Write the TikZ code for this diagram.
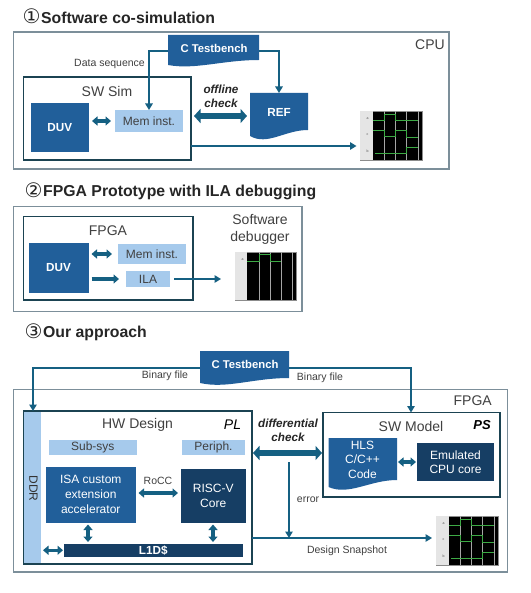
\documentclass[tikz,border=0pt]{standalone}
\usepackage{fontspec}
\setmainfont{Liberation Sans}
\newfontfamily\symfont{DejaVu Sans}
\usetikzlibrary{arrows.meta,calc}
\definecolor{midblue}{HTML}{215F9A}
\definecolor{navy}{HTML}{163E64}
\definecolor{lightblue}{HTML}{A6CAEC}
\definecolor{teal}{HTML}{156082}
\definecolor{framegray}{HTML}{7C8F9A}
\definecolor{innerdark}{HTML}{1B4352}
\definecolor{textgray}{HTML}{404040}
\definecolor{wavegreen}{HTML}{3DAA45}
\newcommand{\fsz}[1]{\fontsize{#1}{\dimexpr #1pt*12/10\relax}\selectfont}
\newcommand{\circnum}[1]{\makebox[18.5pt][l]{\symfont\mdseries\fsz{20}\raisebox{-0.5pt}{#1}}}
% name, x1, y1, x2, y2, style, text
\newcommand{\bx}[7]{%
  \pgfmathsetmacro\bw{#4-#2}\pgfmathsetmacro\bh{#5-#3}%
  \pgfmathsetmacro\bcx{(#2+#4)/2}\pgfmathsetmacro\bcy{(#3+#5)/2}%
  \node[#6,minimum width=\bw pt,minimum height=\bh pt,inner sep=0pt,outer sep=0pt] (#1) at (\bcx,\bcy) {#7};}
% name, x1, y1, x2, y2(right bottom), y3(left bottom), dip
\newcommand{\docshape}[7]{%
  \pgfmathsetmacro\bw{#4-#2}\pgfmathsetmacro\bh{#5-#3}%
  \pgfmathsetmacro\bcx{(#2+#4)/2}\pgfmathsetmacro\bcy{(#3+#5)/2}%
  \pgfmathsetmacro\ca{#2+0.3*(#4-#2)}\pgfmathsetmacro\cb{#2+0.6*(#4-#2)}%
  \fill[midblue] (#2,#3) -- (#4,#3) -- (#4,#5) .. controls (\cb,#5) and (\ca,#7) .. (#2,#6) -- cycle;
  \node[minimum width=\bw pt,minimum height=\bh pt,inner sep=0pt,outer sep=0pt] (#1) at (\bcx,\bcy) {};}
\tikzset{
  frame/.style={draw=framegray,line width=1.1pt,fill=white},
  inner box/.style={draw=innerdark,line width=1.3pt,fill=white},
  dark/.style={fill=midblue,text=white,font=\fsz{11.7}\bfseries,align=center},
  darkreg/.style={fill=midblue,text=white,font=\fsz{12},align=center},
  deep/.style={fill=navy,text=white,font=\fsz{12},align=center},
  pale/.style={fill=lightblue,text=textgray,font=\fsz{12}},
  title/.style={anchor=west,text=black!85,font=\fsz{15.8}\bfseries,inner sep=0pt},
  lab/.style={text=textgray,font=\fsz{10.5},inner sep=0pt,align=center},
  head/.style={text=textgray,font=\fsz{14},inner sep=0pt,align=center},
  chk/.style={text=black!85,font=\fsz{11.7}\bfseries\itshape,inner sep=0pt,align=center},
  thin arrow/.style={draw=teal,line width=1.3pt,-{Triangle[width=7.5pt,length=6.5pt]}},
  small both/.style={draw=teal,line width=3.2pt,{Triangle[width=9pt,length=5.5pt]}-{Triangle[width=9pt,length=5.5pt]}},
  small one/.style={draw=teal,line width=3.2pt,-{Triangle[width=9pt,length=5.5pt]}},
  big both/.style={draw=teal,line width=6pt,{Triangle[width=14pt,length=6.5pt]}-{Triangle[width=14pt,length=6.5pt]}},
  wavebox/.style={draw=black!45,line width=0.8pt,fill=black},
  wave/.style={draw=wavegreen,line width=0.9pt},
  waveg/.style={draw=black!35,line width=0.8pt},
  panel/.style={fill=black!10},
  wavelab/.style={font=\fsz{3.5},inner sep=0pt,text=black!70}
}
\newcommand{\fullwave}[3]{%
  \bx{#1}{#2}{#3}{#2+62}{#3+49}{wavebox}{}
  \begin{scope}[shift={(#2,#3)}]
    \fill[panel] (0.4,0.4) rectangle (12.7,48.6);
    \foreach \vx in {24.3,35.7,46.7,58.3} \draw[waveg] (\vx,0.4) -- (\vx,48.6);
    \node[wavelab] at (7.5,8) {a};
    \node[wavelab] at (7.5,24) {c};
    \node[wavelab] at (7.5,40.5) {b};
    \draw[wave] (12.7,9.3) -- (24.3,9.3) -- (24.3,3) -- (35.7,3) -- (35.7,9.3) -- (58.3,9.3);
    \draw[wave] (12.7,19.3) -- (24.3,19.3) -- (24.3,25.3) -- (35.7,25.3) -- (35.7,19.3) -- (46.7,19.3) -- (46.7,26) -- (58.3,26);
    \draw[wave] (15,42) -- (46.7,42) -- (46.7,36) -- (58.3,36);
  \end{scope}}
\begin{document}
\begin{tikzpicture}[x=1pt,y=-1pt]
\useasboundingbox (0,0) rectangle (530,593);
\fill[white] (0,0) rectangle (530,593);

% ---- Part 1
\node[title] (t1) at (22.5,16.5) {\circnum{①}Software co-simulation};
\bx{cpu}{13.5}{32}{449}{169}{frame}{}
\node[head,anchor=north east] (cpulab) at (445,40) {CPU};
\bx{swsim}{23.5}{77}{191}{160}{inner box}{}
\node[head] (swsimlab) at (107,91) {SW Sim};
\bx{duva}{30.5}{103}{89}{152}{dark}{DUV}
\bx{mema}{115}{110}{183}{132}{pale}{Mem inst.}
\docshape{tba}{168}{35}{259}{60}{65}{70}
\node[text=white,font=\fsz{11.3}\bfseries,inner sep=0pt] (tbalab) at (214,48) {C Testbench};
\docshape{refa}{250}{93}{308}{130}{136}{146}
\node[text=white,font=\fsz{11.7}\bfseries,inner sep=0pt] (refalab) at (279,112) {REF};
\node[chk] (offl) at (221,96.5) {offline\\[0.5pt]check};
\node[lab] (dseq) at (109.5,64) {Data sequence};
\fullwave{wavea}{360}{111}
\coordinate (ca1) at (149,51);
\coordinate (ca2) at (279,51);
\draw[thin arrow] (tba.west |- ca1) -- (ca1) -- (ca1 |- mema.north);
\draw[thin arrow] (tba.east |- ca2) -- (ca2) -- (ca2 |- refa.north);
\draw[small both,shorten <=3pt,shorten >=4pt] (duva.east |- mema.west) -- (mema.west);
\draw[big both,shorten <=3pt,shorten >=3pt] (swsim.east |- 0,116) -- (refa.west |- 0,116);
\coordinate (ca3) at (191,146);
\draw[thin arrow,shorten >=3.5pt] (ca3) -- (wavea.west |- ca3);

% ---- Part 2
\node[title] (t2) at (24.5,191.5) {\circnum{②}FPGA Prototype with ILA debugging};
\bx{boxb}{13.5}{206.5}{302}{311.5}{frame}{}
\bx{fpgab}{23.5}{216.5}{193}{300}{inner box}{}
\node[head] (fpgablab) at (108,231) {FPGA};
\bx{duvb}{28.5}{243}{88.5}{293}{dark}{DUV}
\bx{memb}{118}{244}{186}{264}{pale}{Mem inst.}
\bx{ilab}{126}{271}{170}{287}{pale}{ILA}
\node[head] (dbg) at (260,229.5) {Software\\[0pt]debugger};
\bx{waveb}{235}{252}{296}{300}{wavebox}{}
\begin{scope}[shift={(235,252)}]
  \fill[panel] (0.4,0.4) rectangle (12.3,47.6);
  \foreach \vx in {24,35,46,57} \draw[waveg] (\vx,0.4) -- (\vx,47.6);
  \node[wavelab] at (7.5,7.5) {a};
  \draw[wave] (12.3,9) -- (24,9) -- (24,2.7) -- (35,2.7) -- (35,9) -- (46,9);
\end{scope}
\draw[small both,shorten <=3pt,shorten >=6pt] (duvb.east |- memb.west) -- (memb.west);
\draw[small one,shorten <=3pt,shorten >=7pt] (duvb.east |- ilab.west) -- (ilab.west);
\draw[thin arrow,shorten <=4pt,shorten >=14pt] (ilab.east) -- (waveb.west |- ilab.east);

% ---- Part 3
\node[title] (t3) at (24.5,332.5) {\circnum{③}Our approach};
\bx{boxc}{13.5}{389.5}{507.5}{572}{frame}{}
\node[head,anchor=north east] (fpgaclab) at (492,396) {FPGA};
\docshape{tbc}{200}{351}{289}{378}{383}{389}
\node[text=white,font=\fsz{11.3}\bfseries,inner sep=0pt] (tbclab) at (245,364.5) {C Testbench};
\bx{hw}{23.5}{411}{252}{564}{inner box}{}
\bx{ddr}{24.2}{412}{41}{563.3}{fill=lightblue}{}
\node[rotate=-90,text=black!80,font=\fsz{12},inner sep=0pt] (ddrlab) at (33.5,488.5) {DDR};
\node[head] (hwlab) at (137.5,425) {HW Design};
\node[text=black,font=\fsz{14}\itshape,inner sep=0pt] (pl) at (232.5,424.5) {PL};
\bx{subsys}{48.5}{440}{137}{455}{pale}{Sub-sys}
\bx{periph}{182}{440}{245}{455}{pale}{Periph.}
\bx{isa}{46}{467}{135.5}{522.5}{darkreg}{ISA custom\\[0.5pt]extension\\[0.5pt]accelerator}
\bx{riscv}{181}{469}{245.5}{522.5}{deep}{RISC-V\\[0pt]Core}
\bx{lid}{64}{544}{242.5}{556.5}{fill=navy,text=white,font=\fsz{11.7}\bfseries}{L1D\$}
\node[lab] (rocc) at (158,481) {RoCC};
\bx{sw}{323}{412.5}{500}{497}{inner box}{}
\node[head] (swlab) at (411,426) {SW Model};
\node[text=black,font=\fsz{13}\bfseries\itshape,inner sep=0pt] (ps) at (482,425) {PS};
\docshape{hls}{328.5}{438}{397}{480}{487}{496}
\node[text=white,font=\fsz{12},inner sep=0pt,align=center] (hlslab) at (362.5,459.5) {HLS\\[0pt]C/C++\\[0pt]Code};
\bx{emu}{417}{443}{494}{481}{deep}{Emulated\\[0pt]CPU core}
\node[chk] (diff) at (288,430) {differential\\[0pt]check};
\node[lab] (bf1) at (165,376) {Binary file};
\node[lab] (bf2) at (320,378) {Binary file};
\node[lab] (err) at (308,499.5) {error};
\node[lab] (snap) at (347,551) {Design Snapshot};
\fullwave{wavec}{436}{516}
\coordinate (cc1) at (33,368);
\coordinate (cc2) at (411,368);
\coordinate (cc3) at (289,462);
\coordinate (cc4) at (252,538);
\draw[thin arrow] (tbc.west |- cc1) -- (cc1) -- (cc1 |- hw.north);
\draw[thin arrow] (tbc.east |- cc2) -- (cc2) -- (cc2 |- sw.north);
\draw[thin arrow] (cc3) -- (cc3 |- cc4);
\draw[thin arrow,shorten >=4pt] (cc4) -- (wavec.west |- cc4);
\draw[big both,shorten <=1pt,shorten >=1pt] (hw.east |- 0,453) -- (sw.west |- 0,453);
\draw[small both,shorten <=3pt,shorten >=3pt] (isa.east |- 0,493) -- (riscv.west |- 0,493);
\draw[small both,shorten <=2pt,shorten >=2pt] (88,522.5) -- (88,544);
\draw[small both,shorten <=2pt,shorten >=2pt] (213,522.5) -- (213,544);
\draw[small both,shorten <=2pt,shorten >=1pt] (ddr.east |- lid.west) -- (lid.west);
\draw[small both,shorten <=1pt,shorten >=1pt] (hls.east |- emu.west) -- (emu.west);
\end{tikzpicture}
\end{document}
